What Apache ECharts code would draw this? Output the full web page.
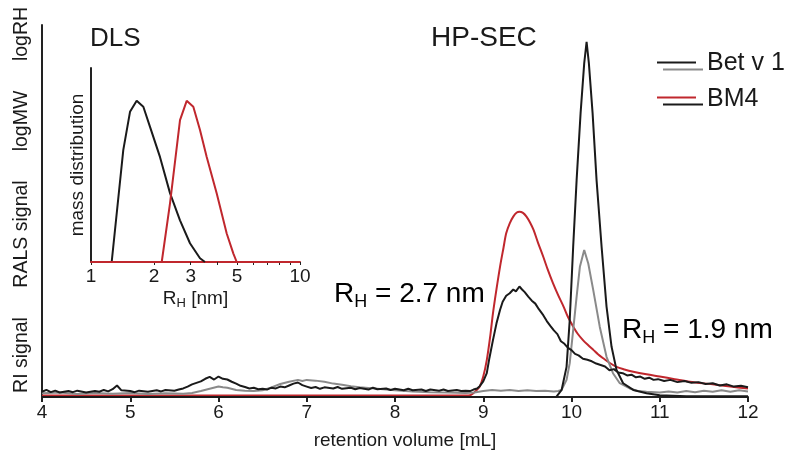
<!DOCTYPE html>
<html><head><meta charset="utf-8">
<script src="https://cdn.jsdelivr.net/npm/echarts@6/dist/echarts.min.js"></script>
<style>html,body{margin:0;padding:0;background:#fff}#c{width:800px;height:470px}</style>
</head><body><div id="c"></div>
<script>
// ---------- HP-SEC data (retention volume [mL], relative signal 0-100) ----------
const volumeRange = [4, 12];
const betBlack = [[4.0,0],[9.83,0.1],[9.85,0.5],[9.888,1.9],[9.944,8.1],[9.98,20.7],[10.019,40.4],[10.058,58.3],[10.103,76.3],[10.144,89.7],[10.171,95.5],[10.197,89.7],[10.239,76.3],[10.284,58.3],[10.341,40.4],[10.397,24.3],[10.454,13.5],[10.51,7.3],[10.585,3.7],[10.70,1.9],[10.85,1.0],[11.0,0.5],[11.3,0.2],[12.0,0.2]];
const betGray = [[4.0,1.0],[4.2,1.2],[4.4,0.8],[4.6,1.1],[4.8,0.9],[5.0,1.1],[5.2,0.8],[5.4,1.0],[5.6,0.9],[5.7,1.1],[5.8,1.6],[5.9,2.2],[6.0,2.8],[6.05,2.6],[6.1,2.5],[6.2,1.9],[6.3,1.7],[6.4,1.6],[6.5,1.8],[6.6,2.6],[6.7,3.5],[6.8,4.1],[6.9,4.6],[6.95,4.3],[7.0,4.6],[7.1,4.4],[7.2,4.1],[7.3,3.6],[7.4,3.3],[7.5,2.9],[7.6,2.6],[7.7,2.4],[7.8,2.2],[7.9,2.0],[8.0,1.8],[8.2,1.5],[8.4,1.3],[8.6,1.2],[8.8,1.1],[8.9,1.2],[9.0,1.6],[9.1,1.9],[9.2,1.7],[9.3,1.9],[9.4,1.6],[9.5,1.8],[9.6,1.6],[9.7,1.7],[9.8,1.5],[9.85,1.6],[9.888,1.9],[9.944,4.6],[9.98,9.1],[10.019,18.0],[10.058,27.0],[10.095,35.0],[10.144,39.5],[10.19,35.9],[10.246,28.8],[10.32,18.9],[10.397,10.8],[10.47,6.4],[10.547,3.7],[10.66,2.3],[10.75,1.6],[10.85,1.4],[11.0,1.2],[11.1,1.5],[11.2,1.2],[11.3,1.6],[11.4,1.3],[11.5,1.7],[11.6,1.4],[11.7,1.8],[11.8,1.4],[11.9,1.8],[12.0,1.5]];
const bm4Red = [[4.0,0.4],[8.8,0.4],[8.85,0.45],[8.887,1.0],[8.92,1.7],[8.96,2.8],[9.0,5.5],[9.04,9.9],[9.08,16.5],[9.11,22.5],[9.15,29.0],[9.19,35.0],[9.23,40.2],[9.26,44.0],[9.3,46.7],[9.34,48.5],[9.38,49.6],[9.41,49.8],[9.45,49.5],[9.49,48.5],[9.53,46.9],[9.57,44.9],[9.62,41.5],[9.68,37.7],[9.73,34.3],[9.79,30.6],[9.85,27.3],[9.91,24.3],[9.96,21.5],[10.02,18.9],[10.07,17.0],[10.13,15.3],[10.19,13.9],[10.25,12.6],[10.3,11.5],[10.36,10.4],[10.43,9.2],[10.51,8.1],[10.6,7.4],[10.7,6.8],[10.85,6.1],[11.0,5.5],[11.17,4.8],[11.34,4.1],[11.6,3.4],[11.8,2.8],[12.0,2.3]];
const bm4Black = [[4.0,1.4],[4.05,1.9],[4.1,1.3],[4.15,1.7],[4.2,1.2],[4.3,1.6],[4.35,1.3],[4.4,1.7],[4.5,1.2],[4.6,1.6],[4.65,1.4],[4.7,1.9],[4.75,1.5],[4.8,2.1],[4.85,3.1],[4.9,1.8],[5.0,1.6],[5.05,1.3],[5.1,1.7],[5.2,1.4],[5.3,1.8],[5.35,1.5],[5.4,1.9],[5.5,1.7],[5.55,2.0],[5.6,2.3],[5.65,2.8],[5.7,3.4],[5.75,3.8],[5.8,4.2],[5.85,4.9],[5.9,5.4],[5.95,4.7],[6.0,5.5],[6.05,4.9],[6.1,4.7],[6.15,4.1],[6.2,3.6],[6.25,3.0],[6.3,2.7],[6.35,2.3],[6.4,2.5],[6.45,2.1],[6.5,2.2],[6.55,2.0],[6.6,2.5],[6.65,2.3],[6.7,2.8],[6.75,2.6],[6.8,3.1],[6.85,3.6],[6.9,3.9],[6.95,3.2],[7.0,2.8],[7.05,2.4],[7.1,2.7],[7.15,2.2],[7.2,2.6],[7.3,2.3],[7.35,2.7],[7.4,2.2],[7.5,2.5],[7.55,2.1],[7.6,2.4],[7.7,2.0],[7.75,2.5],[7.8,2.1],[7.9,2.3],[7.95,1.9],[8.0,2.2],[8.1,1.8],[8.15,2.2],[8.2,1.8],[8.3,2.0],[8.35,1.6],[8.4,2.0],[8.5,1.7],[8.55,2.0],[8.6,1.6],[8.7,1.9],[8.75,1.6],[8.8,1.7],[8.85,1.6],[8.89,2.0],[8.93,2.3],[8.96,2.9],[9.0,4.2],[9.04,6.4],[9.07,10.5],[9.11,15.3],[9.15,19.8],[9.19,23.4],[9.22,25.6],[9.26,27.2],[9.3,27.9],[9.34,28.9],[9.37,28.4],[9.41,29.7],[9.44,28.9],[9.47,28.2],[9.51,27.0],[9.55,25.9],[9.59,25.1],[9.63,23.6],[9.68,22.0],[9.72,20.4],[9.76,19.1],[9.8,17.9],[9.84,16.9],[9.88,15.0],[9.92,14.3],[9.96,13.2],[10.0,12.6],[10.04,11.6],[10.08,11.2],[10.13,10.3],[10.18,10.0],[10.23,9.6],[10.28,9.0],[10.33,8.6],[10.38,8.2],[10.43,7.2],[10.48,7.5],[10.53,6.6],[10.58,6.4],[10.63,5.8],[10.68,6.0],[10.73,5.3],[10.78,5.5],[10.83,4.9],[10.88,5.2],[10.93,4.6],[10.98,4.8],[11.05,4.3],[11.12,4.6],[11.2,4.0],[11.28,4.3],[11.36,3.8],[11.44,4.0],[11.52,3.5],[11.6,3.7],[11.68,3.1],[11.76,3.4],[11.84,2.8],[11.92,3.0],[12.0,2.6]];

// ---------- DLS inset data (R_H [nm], mass distribution) ----------
const dlsTickLabels = [1, 2, 3, 5, 10];
const dlsMinorTicks = [1, 2, 3, 4, 5, 6, 7, 8, 9, 10];
const dlsBetR = [1.0, 1.256, 1.427, 1.537, 1.654, 1.780, 1.916, 2.138, 2.388, 2.666, 2.976, 3.323, 3.51];
const dlsBetY = [0, 0, 0.692, 0.929, 0.997, 0.960, 0.836, 0.650, 0.426, 0.258, 0.116, 0.023, 0];
const dlsBm4R = [1.0, 2.18, 2.388, 2.666, 2.87, 3.087, 3.323, 3.578, 3.996, 4.46, 4.80, 4.98, 10.0];
const dlsBm4Y = [0, 0, 0.362, 0.878, 0.997, 0.960, 0.816, 0.650, 0.424, 0.176, 0.052, 0, 0];

const FONT = 'Liberation Sans, Arial, Helvetica, sans-serif';
const INK = '#1a1a1a', RED = '#c0272d', GRAY = '#8a8a8a';
const toLog = (rs, ys) => rs.map((r, i) => [Math.log10(r), ys[i]]);

const chart = echarts.init(document.getElementById('c'), null, {renderer: 'canvas'});
const subRich = {
  a: {fontSize: 28, fontFamily: FONT, color: INK, lineHeight: 31},
  s: {fontSize: 18, fontFamily: FONT, color: INK, lineHeight: 18, padding: [16, 0, 0, 0]}
};
const yLab = (text, y) => ({type: 'text', x: 22, y: y, rotation: Math.PI / 2,
  style: {text: text, font: '19.5px ' + FONT, fill: INK, align: 'center', verticalAlign: 'middle'}});
chart.setOption({
  animation: false,
  backgroundColor: '#fff',
  grid: [
    {left: 42, right: 52, top: 25, bottom: 73},
    {left: 91, right: 500, top: 68, bottom: 208}
  ],
  xAxis: [
    {type: 'value', gridIndex: 0, min: volumeRange[0], max: volumeRange[1], interval: 1,
     name: 'retention volume [mL]', nameLocation: 'middle', nameGap: 34,
     nameTextStyle: {fontSize: 19, fontFamily: FONT, color: INK, padding: [0, 0, 0, 20]},
     axisLine: {lineStyle: {color: '#222', width: 2}},
     axisTick: {show: true, length: 5, lineStyle: {color: '#222', width: 2}},
     axisLabel: {fontSize: 19, fontFamily: FONT, color: INK, margin: 6},
     splitLine: {show: false}},
    {type: 'value', gridIndex: 1, min: 0, max: 1,
     name: '{a|R}{s|H}{b| [nm]}', nameLocation: 'middle', nameGap: 20,
     nameTextStyle: {rich: {
       a: {fontSize: 19, fontFamily: FONT, color: INK, lineHeight: 22},
       s: {fontSize: 13, fontFamily: FONT, color: INK, lineHeight: 13, padding: [10, 0, 0, 0]},
       b: {fontSize: 19, fontFamily: FONT, color: INK, lineHeight: 22}}},
     axisLine: {lineStyle: {color: RED, width: 2}},
     axisTick: {show: true, length: 3, customValues: dlsMinorTicks.map(Math.log10), lineStyle: {color: '#222', width: 1}},
     axisLabel: {fontSize: 19, fontFamily: FONT, color: INK, margin: 5,
       customValues: dlsTickLabels.map(Math.log10),
       formatter: v => String(Math.round(Math.pow(10, v)))},
     splitLine: {show: false}}
  ],
  yAxis: [
    {type: 'value', gridIndex: 0, min: 0, max: 100,
     axisLine: {show: true, lineStyle: {color: '#222', width: 2}},
     axisTick: {show: false}, axisLabel: {show: false}, splitLine: {show: false}},
    {type: 'value', gridIndex: 1, min: 0, max: 1.2,
     name: 'mass distribution', nameLocation: 'middle', nameGap: 4,
     nameTextStyle: {fontSize: 19, fontFamily: FONT, color: INK},
     axisLine: {show: true, lineStyle: {color: '#222', width: 2}},
     axisTick: {show: false}, axisLabel: {show: false}, splitLine: {show: false}}
  ],
  series: [
    {type: 'line', xAxisIndex: 0, yAxisIndex: 0, data: bm4Red, showSymbol: false, smooth: 0.3, clip: false,
     lineStyle: {color: RED, width: 2}, z: 2},
    {type: 'line', xAxisIndex: 0, yAxisIndex: 0, data: betGray, showSymbol: false,
     lineStyle: {color: GRAY, width: 2}, z: 3},
    {type: 'line', xAxisIndex: 0, yAxisIndex: 0, data: bm4Black, showSymbol: false,
     lineStyle: {color: INK, width: 2}, z: 4},
    {type: 'line', xAxisIndex: 0, yAxisIndex: 0, data: betBlack, showSymbol: false,
     lineStyle: {color: INK, width: 2}, z: 5},
    {type: 'line', xAxisIndex: 1, yAxisIndex: 1, data: toLog(dlsBetR, dlsBetY), showSymbol: false, clip: false,
     lineStyle: {color: INK, width: 2}, z: 5},
    {type: 'line', xAxisIndex: 1, yAxisIndex: 1, data: toLog(dlsBm4R, dlsBm4Y), showSymbol: false, clip: false,
     lineStyle: {color: RED, width: 2}, z: 6}
  ],
  graphic: [
    yLab('RI signal', 355), yLab('RALS signal', 234), yLab('logMW', 121), yLab('logRH', 34),
    {type: 'text', x: 90, y: 39, style: {text: 'DLS', font: '26px ' + FONT, fill: INK, align: 'left', verticalAlign: 'middle'}},
    {type: 'text', x: 431, y: 38, style: {text: 'HP-SEC', font: '28px ' + FONT, fill: INK, align: 'left', verticalAlign: 'middle'}},
    {type: 'text', x: 334, y: 294, style: {text: '{a|R}{s|H}{a| = 2.7 nm}', rich: subRich, align: 'left', verticalAlign: 'middle'}},
    {type: 'text', x: 622, y: 330, style: {text: '{a|R}{s|H}{a| = 1.9 nm}', rich: subRich, align: 'left', verticalAlign: 'middle'}},
    {type: 'line', z: 10, shape: {x1: 657, y1: 62.5, x2: 696, y2: 62.5}, style: {stroke: INK, lineWidth: 2}},
    {type: 'line', z: 10, shape: {x1: 663, y1: 69.5, x2: 703, y2: 69.5}, style: {stroke: GRAY, lineWidth: 2}},
    {type: 'line', z: 10, shape: {x1: 657, y1: 97.5, x2: 696, y2: 97.5}, style: {stroke: RED, lineWidth: 2}},
    {type: 'line', z: 10, shape: {x1: 663, y1: 104.5, x2: 703, y2: 104.5}, style: {stroke: INK, lineWidth: 2}},
    {type: 'text', x: 707, y: 63, style: {text: 'Bet v 1', font: '25px ' + FONT, fill: INK, align: 'left', verticalAlign: 'middle'}},
    {type: 'text', x: 707, y: 99, style: {text: 'BM4', font: '25px ' + FONT, fill: INK, align: 'left', verticalAlign: 'middle'}}
  ]
});
</script>
</body></html>
